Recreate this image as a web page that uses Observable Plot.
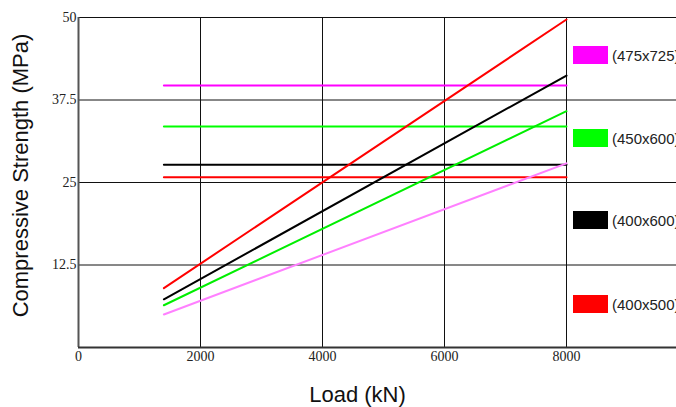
<!DOCTYPE html>
<html>
<head>
<meta charset="utf-8">
<script src="https://cdn.jsdelivr.net/npm/d3@7"></script>
<script src="https://cdn.jsdelivr.net/npm/@observablehq/plot@0.6"></script>
<style>
  html, body { margin: 0; padding: 0; background: #fff; overflow: hidden; width: 676px; height: 407px; }
  #wrap { position: relative; width: 676px; height: 407px; overflow: hidden; }
  #wrap svg { position: absolute; left: 0; top: 0; max-width: none !important; width: 700px; height: 407px; }
  .leg { position: absolute; left: 573px; display: flex; align-items: center; font-family: Arial, "Liberation Sans", sans-serif; font-size: 15px; color: #222; white-space: nowrap; }
  .sw { width: 35px; height: 18px; margin-right: 4px; }
</style>
</head>
<body>
<div id="wrap"></div>
<script>
// Column sizes (legend order, top to bottom)
const sizes = ["(475x725)", "(450x600)", "(400x600)", "(400x500)"];
const colors = ["#ff00ff", "#00ff00", "#000000", "#ff0000"];
const slopeColors = ["#ff80ff", "#00ee00", "#000000", "#ff0000"];
// Load range of the curves (kN)
const loads = [1400, 8000];
// Compressive strength (MPa) of the sloped lines at start and end load
const strengthStart = [5.0, 6.4, 7.3, 9.0];
const strengthEnd = [27.9, 35.8, 41.2, 49.7];
// Horizontal capacity lines (MPa)
const capacity = [39.7, 33.5, 27.7, 25.8];
// Ticks
const xTicks = [0, 2000, 4000, 6000, 8000];
const yTicks = [12.5, 25, 37.5, 50];

const sloped = [];
const flat = [];
sizes.forEach((s, i) => {
  sloped.push({size: s, load: loads[0], mpa: strengthStart[i], c: slopeColors[i]});
  sloped.push({size: s, load: loads[1], mpa: strengthEnd[i], c: slopeColors[i]});
  flat.push({size: s, load: loads[0], mpa: capacity[i], c: colors[i]});
  flat.push({size: s, load: loads[1], mpa: capacity[i], c: colors[i]});
});

const chart = Plot.plot({
  width: 700,
  height: 407,
  marginLeft: 78,
  marginRight: 12,
  marginTop: 17,
  marginBottom: 60,
  x: {domain: [0, 10000]},
  y: {domain: [0, 50]},
  style: {background: "transparent", maxWidth: "none"},
  marks: [
    Plot.ruleY(yTicks, {stroke: "#111", strokeWidth: 1}),
    Plot.ruleX(xTicks.filter(d => d > 0), {stroke: "#111", strokeWidth: 1}),
    Plot.ruleX([0], {stroke: "#555", strokeWidth: 2}),
    Plot.ruleY([0], {stroke: "#333", strokeWidth: 2}),
    Plot.line(flat, {x: "load", y: "mpa", z: "size", stroke: "c", strokeWidth: 2}),
    Plot.line(sloped, {x: "load", y: "mpa", z: "size", stroke: "c", strokeWidth: 2}),
    Plot.axisX({ticks: xTicks, tickSize: 0, tickPadding: 4, label: null, fontFamily: "Liberation Serif", fontSize: 14, fill: "#222", tickFormat: d => String(d)}),
    Plot.axisY({ticks: yTicks, tickSize: 0, tickPadding: 2, label: null, fontFamily: "Liberation Serif", fontSize: 14, fill: "#222", tickFormat: d => String(d)}),
    Plot.text(["Compressive Strength (MPa)"], {frameAnchor: "left", textAnchor: "middle", lineAnchor: "middle", rotate: -90, dx: -58, dy: -7, fontSize: 22, fontFamily: "Arial, Liberation Sans", fill: "#111"}),
    Plot.text(["Load (kN)"], {frameAnchor: "bottom", textAnchor: "middle", lineAnchor: "middle", dy: 47, dx: -26, fontSize: 22, fontFamily: "Arial, Liberation Sans", fill: "#111"})
  ]
});
const wrap = document.getElementById("wrap");
wrap.appendChild(chart);

const legTops = [46, 129, 211, 295];
sizes.forEach((s, i) => {
  const d = document.createElement("div");
  d.className = "leg";
  d.style.top = legTops[i] + "px";
  d.innerHTML = `<div class="sw" style="background:${colors[i]}"></div><span>${s}</span>`;
  wrap.appendChild(d);
});
</script>
</body>
</html>
